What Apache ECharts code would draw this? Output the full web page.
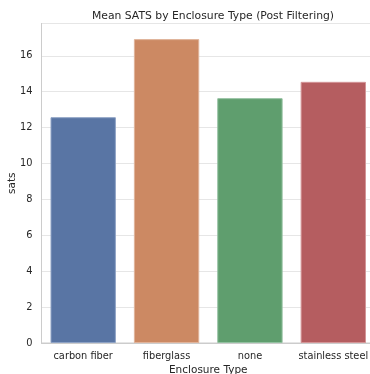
<!DOCTYPE html>
<html><head><meta charset="utf-8">
<script src="https://cdn.jsdelivr.net/npm/echarts@6/dist/echarts.min.js"></script>
<style>html,body{margin:0;padding:0;background:#fff}#c{width:370px;height:374px}</style>
</head><body><div id="c"></div>
<script>
const categories = ['carbon fiber', 'fiberglass', 'none', 'stainless steel'];
const satsValues = [12.58, 16.93, 13.64, 14.55];
const barColors = ['#5975A4', '#CC8963', '#5F9E6E', '#B55D60'];
const edgeColors = ['#8ea2c4', '#e0b39a', '#93c0a0', '#d39597'];
const yTicks = [0, 2, 4, 6, 8, 10, 12, 14, 16];

const chart = echarts.init(document.getElementById('c'), null, {renderer: 'canvas'});
const font = 'DejaVu Sans';
chart.setOption({
  animation: false,
  backgroundColor: '#fff',
  title: {
    text: 'Mean SATS by Enclosure Type (Post Filtering)',
    left: 208, top: 6, textAlign: 'center',
    textStyle: {fontFamily: font, fontSize: 10.8, fontWeight: 'normal', color: '#262626'}
  },
  grid: {left: 41.5, top: 23.5, width: 333.5, bottom: 31, show: true, borderColor: '#cccccc', borderWidth: 1,
    containLabel: false, outerBoundsMode: 'none'},
  xAxis: {
    type: 'category', data: categories,
    axisLine: {show: true, lineStyle: {color: '#cccccc', width: 1}},
    axisTick: {show: false},
    axisLabel: {fontFamily: font, fontSize: 9.8, color: '#262626', margin: 8, interval: 0},
    name: 'Enclosure Type', nameLocation: 'middle', nameGap: 22, nameMoveOverlap: false,
    nameTextStyle: {fontFamily: font, fontSize: 10.5, color: '#262626'}
  },
  yAxis: {
    type: 'value', min: 0, max: 17.8, interval: 2,
    axisLine: {show: true, lineStyle: {color: '#cccccc', width: 1}},
    axisTick: {show: false},
    axisLabel: {fontFamily: font, fontSize: 9.8, color: '#262626', margin: 9, showMaxLabel: false,
      formatter: v => yTicks.includes(v) ? String(v) : ''},
    splitLine: {show: true, lineStyle: {color: '#e6e6e6', width: 1}},
    name: 'sats', nameLocation: 'middle', nameGap: 24, nameMoveOverlap: false,
    nameTextStyle: {fontFamily: font, fontSize: 10.5, color: '#262626'}
  },
  series: [{
    type: 'bar', barWidth: '78.4%',
    data: satsValues.map((v, i) => ({value: v, itemStyle: {color: barColors[i], borderColor: edgeColors[i], borderWidth: 1}}))
  }]
});
</script></body></html>
